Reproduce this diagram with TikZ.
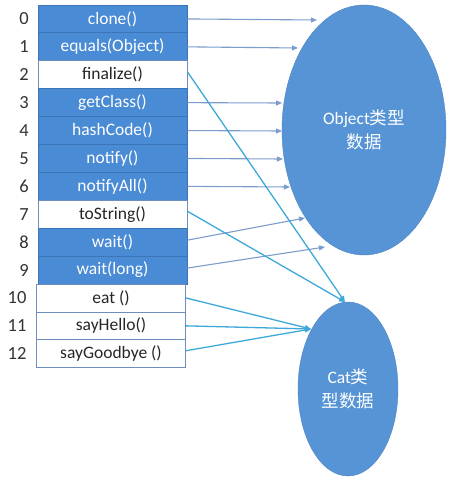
\documentclass[tikz,border=0pt]{standalone}
\usepackage{fontspec}
\setmainfont{Carlito}
\newfontfamily\cjk{Noto Sans CJK SC}
\usetikzlibrary{arrows.meta,shapes.geometric}
\definecolor{rowblue}{HTML}{4A8BD5}
\definecolor{rowedge}{HTML}{3C74B8}
\definecolor{whiteedge}{HTML}{6F8DBE}
\definecolor{ellblue}{HTML}{5694D6}
\definecolor{grayarrow}{HTML}{7C9CCC}
\definecolor{cyanarrow}{HTML}{3DA8DA}
\tikzset{
  bluerow/.style={draw=rowedge, line width=0.8pt, fill=rowblue, text=white, minimum width=149pt, minimum height=27.9pt, inner sep=0pt, font=\fontsize{17.5}{19}\selectfont},
  whiterow/.style={draw=whiteedge, line width=0.8pt, fill=white, text=black!85, minimum width=149pt, minimum height=27.9pt, inner sep=0pt, font=\fontsize{17.5}{19}\selectfont},
  idx/.style={font=\fontsize{18.5}{20}\selectfont, text=black!80, inner sep=0pt},
  blob/.style={ellipse, fill=ellblue, draw=ellblue!90!black, line width=0.4pt, text=white, align=center, inner sep=0pt, font=\fontsize{17.5}{24}\selectfont},
  objarrow/.style={draw=grayarrow, line width=1.1pt, -{Triangle[length=6pt,width=5pt]}},
  catarrow/.style={draw=cyanarrow, line width=1.3pt, -{Triangle[length=6pt,width=5pt]}}
}
\begin{document}
\begin{tikzpicture}[x=1pt,y=-1pt]
\useasboundingbox (0,0) rectangle (471,487);
% rows
\node[bluerow]  (r0)  at (112.5, 18.95) {clone()};
\node[bluerow]  (r1)  at (112.5, 46.85) {equals(Object)};
\node[whiterow] (r2)  at (112.5, 74.75) {finalize()};
\node[bluerow]  (r3)  at (112.5,102.65) {getClass()};
\node[bluerow]  (r4)  at (112.5,130.55) {hashCode()};
\node[bluerow]  (r5)  at (112.5,158.45) {notify()};
\node[bluerow]  (r6)  at (112.5,186.35) {notifyAll()};
\node[whiterow] (r7)  at (112.5,214.25) {toString()};
\node[bluerow]  (r8)  at (112.5,242.15) {wait()};
\node[bluerow]  (r9)  at (112.5,270.05) {wait(long)};
\node[whiterow] (r10) at (111,297.95) {eat ()};
\node[whiterow] (r11) at (111,325.85) {sayHello()};
\node[whiterow] (r12) at (111,353.75) {sayGoodbye ()};
% indices
\node[idx] (n0)  at (24, 18.95) {0};
\node[idx] (n1)  at (24, 46.85) {1};
\node[idx] (n2)  at (24, 74.75) {2};
\node[idx] (n3)  at (24,102.65) {3};
\node[idx] (n4)  at (24,130.55) {4};
\node[idx] (n5)  at (24,158.45) {5};
\node[idx] (n6)  at (24,186.35) {6};
\node[idx] (n7)  at (24,214.25) {7};
\node[idx] (n8)  at (24,242.15) {8};
\node[idx] (n9)  at (24,270.05) {9};
\node[idx] (n10) at (17,297.95) {10};
\node[idx] (n11) at (17,325.85) {11};
\node[idx] (n12) at (17,353.75) {12};
% ellipses
\node[blob, minimum width=164pt, minimum height=250pt] (obj) at (364,130) {Object{\cjk 类型}\\{\cjk 数据}};
\node[blob, minimum width=100pt, minimum height=174pt] (cat) at (348,389) {Cat{\cjk 类}\\{\cjk 型数据}};
% arrow targets
\coordinate (t0) at (317,20);
\coordinate (t1) at (298,48);
\coordinate (t3) at (282,103);
\coordinate (t4) at (282,131);
\coordinate (t5) at (283,159);
\coordinate (t6) at (290,187);
\coordinate (t8) at (305,218);
\coordinate (t9) at (325,247);
\coordinate (ctop) at (345,302);
\coordinate (cleft) at (311,329);
% object arrows
\draw[objarrow] (r0.east) -- (t0);
\draw[objarrow] (r1.east) -- (t1);
\draw[objarrow] (r3.east) -- (t3);
\draw[objarrow] (r4.east) -- (t4);
\draw[objarrow] (r5.east) -- (t5);
\draw[objarrow] (r6.east) -- (t6);
\draw[objarrow] ([yshift=2pt]r8.east) -- (t8);
\draw[objarrow] ([yshift=2pt]r9.east) -- (t9);
% cat arrows
\draw[catarrow] ([yshift=3pt]r2.east) -- (ctop);
\draw[catarrow] ([yshift=3pt]r7.east) -- (ctop);
\draw[catarrow] (r10.east) -- (cleft);
\draw[catarrow] (r11.east) -- (cleft);
\draw[catarrow] ([yshift=3pt]r12.east) -- (cleft);
\end{tikzpicture}
\end{document}
